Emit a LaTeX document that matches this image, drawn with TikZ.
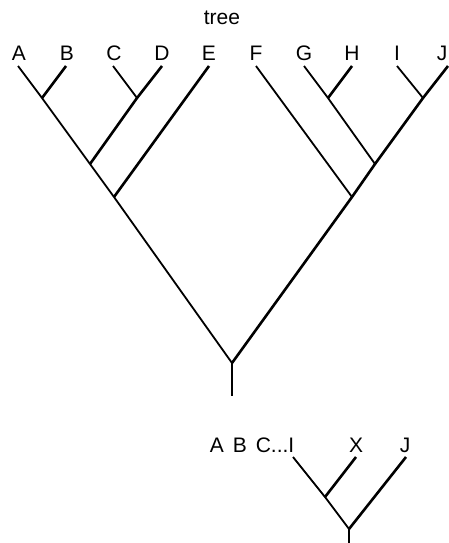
\documentclass[tikz,border=0pt]{standalone}
\usepackage{fontspec}
\setmainfont{Liberation Sans}
\begin{document}
\begin{tikzpicture}[x=1pt,y=-1pt,
  lbl/.style={inner sep=0pt,anchor=base,font=\fontsize{21}{25}\selectfont},
  thin/.style={line width=1.8pt,line cap=butt},
  thick/.style={line width=2.6pt,line cap=butt}]
\useasboundingbox (0,0) rectangle (449,543);
% title
\node[lbl] (title) at (222,25) {tree};
% leaf labels
\foreach \n/\x in {A/19,B/67,C/114,D/162,E/209,F/256,G/304,H/352,I/397,J/442}
  \node[lbl] (l\n) at (\x,60) {\n};
% leaf tips
\coordinate (tA) at (18,66);
\coordinate (tB) at (66,66);
\coordinate (tC) at (113,66);
\coordinate (tD) at (162,66);
\coordinate (tE) at (209,66);
\coordinate (tF) at (256,66);
\coordinate (tG) at (304,66);
\coordinate (tH) at (352,66);
\coordinate (tI) at (397,66);
\coordinate (tJ) at (448,66);
% internal nodes
\coordinate (ab) at (42,98);
\coordinate (cd) at (137,98);
\coordinate (abcd) at (90,164);
\coordinate (ae) at (114,197);
\coordinate (gh) at (328,98);
\coordinate (ij) at (423,98);
\coordinate (gj) at (375,164);
\coordinate (fj) at (352,197);
\coordinate (root) at (232,363);
\coordinate (stem) at (232,396);
% left-leaning (thin) branches
\draw[thin] (tA) -- (ab) -- (abcd) -- (ae) -- (root);
\draw[thin] (tC) -- (cd);
\draw[thin] (tF) -- (fj);
\draw[thin] (tG) -- (gh) -- (gj);
\draw[thin] (tI) -- (ij);
% right-leaning (thick) branches
\draw[thick] (tB) -- (ab);
\draw[thick] (tD) -- (cd) -- (abcd);
\draw[thick] (tE) -- (ae);
\draw[thick] (tH) -- (gh);
\draw[thick] (tJ) -- (ij) -- (gj) -- (fj) -- (root);
\draw[thin] (root) -- (stem);
% second tree
\node[lbl,anchor=base east] (lAI) at (294.5,452) {A\hspace{9pt}B\hspace{9pt}C...I};
\node[lbl] (lX) at (356,452) {X};
\node[lbl] (lJ2) at (405,452) {J};
\coordinate (uI) at (293,457);
\coordinate (uX) at (356,457);
\coordinate (uJ) at (406,457);
\coordinate (ix) at (325,497);
\coordinate (root2) at (349,529);
\coordinate (stem2) at (349,543);
\draw[thin] (uI) -- (ix) -- (root2);
\draw[thick] (uX) -- (ix);
\draw[thick] (uJ) -- (root2);
\draw[thin] (root2) -- (stem2);
\end{tikzpicture}
\end{document}
